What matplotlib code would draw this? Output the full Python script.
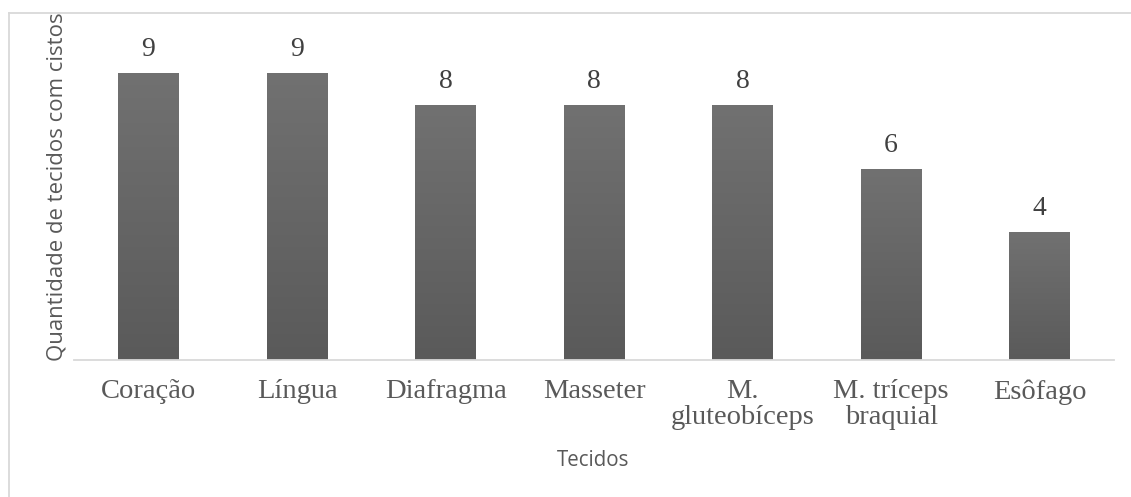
import matplotlib
matplotlib.use("Agg")
import matplotlib.pyplot as plt
import numpy as np
from matplotlib.lines import Line2D
from matplotlib.colors import LinearSegmentedColormap

categories = ["Coração", "Língua", "Diafragma", "Masseter", "M.\ngluteobíceps",
              "M. tríceps\nbraquial", "Esôfago"]
values = [9, 9, 8, 8, 8, 6, 4]
ylabel = "Quantidade de tecidos com cistos"
xlabel = "Tecidos"

W, H = 1131, 497
fig = plt.figure(figsize=(W / 100, H / 100), dpi=100)
ax = fig.add_axes([74.2 / W, (H - 360) / H, (1114 - 74.2) / W, 319 / H])

x = np.arange(len(categories))
bars = ax.bar(x, values, width=0.41, color="#646464", edgecolor="none", zorder=2)

# vertical gradient fill on each bar
grad = np.linspace(0, 1, 256).reshape(-1, 1)
cmap = LinearSegmentedColormap.from_list("g", ["#5a5a5a", "#717171"])
for b in bars:
    x0, y0 = b.get_x(), b.get_y()
    w, h = b.get_width(), b.get_height()
    im = ax.imshow(grad, extent=[x0, x0 + w, y0, y0 + h], origin="lower",
                   cmap=cmap, aspect="auto", zorder=3)
    im.set_clip_path(b)

ax.set_xlim(-0.5, len(categories) - 0.5)
ax.set_ylim(0, 10)

for xi, v in zip(x, values):
    ax.annotate(str(v), (xi, v), xytext=(0, 12.3), textcoords="offset points",
                ha="center", va="baseline", fontfamily="Liberation Serif",
                fontsize=20, color="#404040")

ax.set_xticks(x)
ax.set_xticklabels(categories, fontfamily="Liberation Serif", fontsize=20.5,
                   color="#595959", linespacing=1.02)
ax.tick_params(axis="x", length=0, pad=14)
ax.set_yticks([])
for s in ["top", "right", "left"]:
    ax.spines[s].set_visible(False)
ax.spines["bottom"].set_color("#d9d9d9")
ax.spines["bottom"].set_linewidth(1.3)
ax.spines["bottom"].set_zorder(4)

fig.text(57 / W, 1 - 187 / H, ylabel, rotation=90, ha="center", va="center",
         fontfamily="Open Sans", fontsize=15.9, color="#595959")
fig.text(593 / W, 1 - 460 / H, xlabel, ha="center", va="center",
         fontfamily="Open Sans", fontsize=14.8, color="#595959")

# outer chart border (top and left visible)
fig.add_artist(Line2D([8.5 / W, 1.0], [1 - 12.5 / H, 1 - 12.5 / H],
                      transform=fig.transFigure, color="#d9d9d9", lw=1.3))
fig.add_artist(Line2D([8.5 / W, 8.5 / W], [0, 1 - 12.5 / H],
                      transform=fig.transFigure, color="#d9d9d9", lw=1.3))

fig.savefig("out.png", dpi=100)
